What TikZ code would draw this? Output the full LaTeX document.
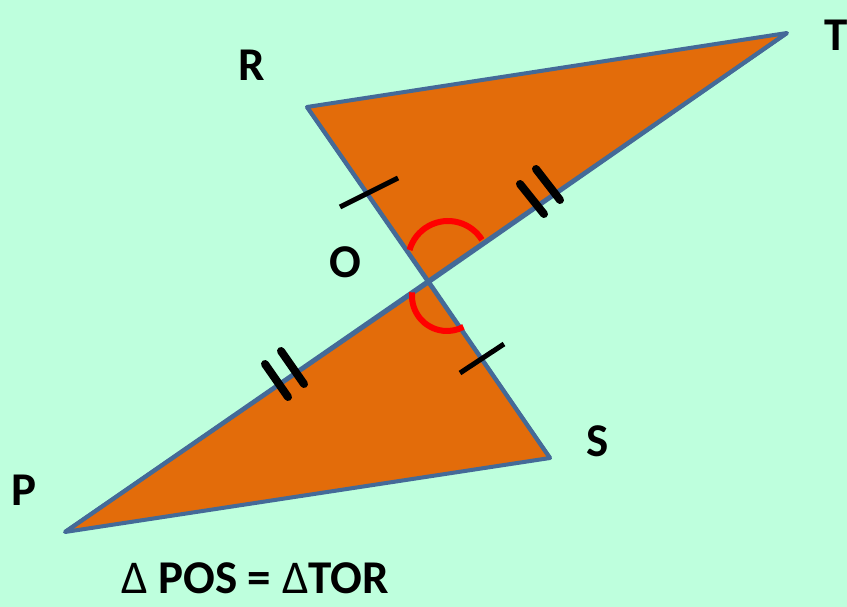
\documentclass[tikz,border=0pt]{standalone}
\usepackage{fontspec}
\setmainfont{Carlito}
\definecolor{bgmint}{RGB}{190,255,221}
\definecolor{triorange}{RGB}{227,108,10}
\definecolor{edgeblue}{RGB}{68,106,152}
\definecolor{arcred}{RGB}{255,0,0}
\tikzset{
  tri/.style={fill=triorange, draw=edgeblue, line width=4pt, line join=round},
  anglearc/.style={draw=arcred, line width=6pt},
  tickone/.style={draw=black, line width=5pt},
  ticktwo/.style={draw=black, line width=8pt, line cap=round},
  lbl/.style={font=\fontsize{47}{50}\selectfont\bfseries, text=black, inner sep=0pt}
}
\begin{document}
\begin{tikzpicture}[x=1pt,y=-1pt]
\fill[bgmint] (0,0) rectangle (847,607);
\useasboundingbox (0,0) rectangle (847,607);
\coordinate (R) at (307,107);
\coordinate (T) at (787,33);
\coordinate (O) at (429,282);
\coordinate (P) at (65,532);
\coordinate (S) at (550,458);
\draw[tri] (R) -- (T) -- (O) -- cycle;
\draw[tri] (P) -- (S) -- (O) -- cycle;
\draw[edgeblue, line width=4pt] (R) -- (S) (T) -- (P);
% angle arcs
\draw[anglearc] (448,261) ++(196:40) arc[start angle=196, end angle=328, radius=40];
\draw[anglearc] (447,296) ++(186:35) arc[start angle=186, end angle=62, radius=35];
% tick marks
\coordinate (t1a) at (340,207); \coordinate (t1b) at (398,178);
\draw[tickone] (t1a) -- (t1b);
\coordinate (t2a) at (460,373); \coordinate (t2b) at (504,344);
\draw[tickone] (t2a) -- (t2b);
\coordinate (d1a) at (520,184); \coordinate (d1b) at (544,214);
\coordinate (d2a) at (536,169); \coordinate (d2b) at (560,200);
\draw[ticktwo] (d1a) -- (d1b);
\draw[ticktwo] (d2a) -- (d2b);
\coordinate (e1a) at (265,364); \coordinate (e1b) at (288,397);
\coordinate (e2a) at (281,351); \coordinate (e2b) at (304,384);
\draw[ticktwo] (e1a) -- (e1b);
\draw[ticktwo] (e2a) -- (e2b);
% labels
\node[lbl] (lR) at (252,65) {R};
\node[lbl] (lT) at (836,35) {T};
\node[lbl] (lO) at (345,262) {O};
\node[lbl] (lS) at (598,441) {S};
\node[lbl] (lP) at (24,490) {P};
\node[lbl] (eq) at (255,578) {{\mdseries ∆} POS = {\mdseries ∆}TOR};
\end{tikzpicture}
\end{document}
